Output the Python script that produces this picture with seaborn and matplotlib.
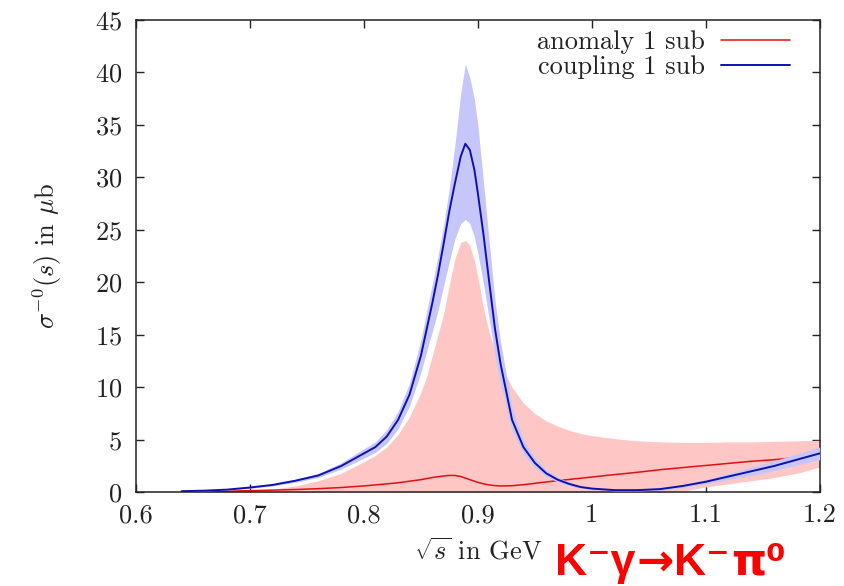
import numpy as np
import pandas as pd
import seaborn as sns
import matplotlib
matplotlib.use("Agg")
import matplotlib.pyplot as plt

# sqrt(s) in GeV
x_vals = [0.64, 0.66, 0.68, 0.70, 0.72, 0.74, 0.76, 0.78, 0.80, 0.81, 0.82, 0.83, 0.84, 0.85,
          0.855, 0.86, 0.865, 0.87, 0.875, 0.88, 0.885, 0.889, 0.893, 0.897, 0.90, 0.905,
          0.91, 0.915, 0.92, 0.93, 0.94, 0.95, 0.96, 0.97, 0.98, 0.99, 1.00, 1.02, 1.04,
          1.06, 1.08, 1.10, 1.12, 1.14, 1.16, 1.18, 1.20]

# coupling 1 sub (central, upper, lower)
coupling = [0.1, 0.15, 0.25, 0.45, 0.7, 1.1, 1.6, 2.5, 3.7, 4.3, 5.3, 6.9, 9.3, 13.0,
            15.5, 18.0, 20.7, 23.7, 26.8, 29.5, 32.0, 33.2, 32.6, 30.7, 28.5, 24.5,
            20.0, 15.6, 12.2, 6.9, 4.3, 2.8, 1.8, 1.2, 0.8, 0.5, 0.35, 0.2, 0.2,
            0.3, 0.6, 1.0, 1.5, 2.0, 2.5, 3.1, 3.7]
coupling_hi = [0.13, 0.18, 0.3, 0.52, 0.8, 1.25, 1.8, 2.8, 4.15, 4.8, 5.95, 7.7, 10.4, 14.5,
               17.2, 19.8, 22.5, 25.5, 29.0, 33.2, 38.0, 40.8, 39.5, 37.4, 35.0, 29.5,
               23.8, 18.3, 14.3, 8.1, 5.0, 3.3, 2.15, 1.42, 0.97, 0.62, 0.43, 0.28, 0.28,
               0.42, 0.75, 1.2, 1.8, 2.4, 3.0, 3.65, 4.3]
coupling_lo = [0.07, 0.12, 0.2, 0.38, 0.6, 0.95, 1.4, 2.2, 3.25, 3.8, 4.65, 6.05, 8.2, 11.4,
               13.4, 15.3, 17.3, 19.7, 22.0, 24.2, 25.6, 26.0, 25.6, 24.3, 22.8, 19.8,
               16.5, 13.0, 10.3, 5.9, 3.65, 2.35, 1.5, 0.98, 0.63, 0.4, 0.27, 0.13, 0.13,
               0.2, 0.45, 0.8, 1.2, 1.6, 2.05, 2.6, 3.1]

# anomaly 1 sub (central, upper, lower)
anomaly = [0.05, 0.07, 0.1, 0.15, 0.2, 0.26, 0.34, 0.45, 0.6, 0.7, 0.8, 0.9, 1.05, 1.2,
           1.3, 1.4, 1.48, 1.55, 1.6, 1.6, 1.5, 1.35, 1.2, 1.05, 0.95, 0.8,
           0.7, 0.63, 0.6, 0.62, 0.72, 0.85, 0.98, 1.1, 1.22, 1.33, 1.45, 1.68, 1.9,
           2.15, 2.35, 2.55, 2.75, 2.95, 3.1, 3.3, 3.5]
anomaly_hi = [0.0, 0.03, 0.08, 0.15, 0.3, 0.6, 1.1, 1.8, 2.9, 3.5, 4.3, 5.5, 7.2, 9.5,
              11.0, 13.0, 15.0, 17.0, 19.8, 22.3, 23.8, 24.0, 23.5, 22.0, 20.5, 17.5,
              15.2, 13.5, 12.2, 10.0, 8.5, 7.5, 6.8, 6.3, 5.9, 5.6, 5.4, 5.1, 4.9,
              4.8, 4.75, 4.75, 4.8, 4.8, 4.85, 4.9, 4.95]
anomaly_lo = [0.0] * 40 + [0.1, 0.5, 0.8, 1.1, 1.4, 1.8, 2.4]

df = pd.DataFrame({"x": x_vals, "coupling": coupling, "anomaly": anomaly})

sns.set_style("ticks")
plt.rcParams['font.family'] = ['cmr10', 'DejaVu Serif']
plt.rcParams['mathtext.fontset'] = 'cm'
plt.rcParams['axes.formatter.use_mathtext'] = True

fig = plt.figure(figsize=(8.45, 5.86), dpi=100)
ax = fig.add_axes([0.161, 0.160, 0.809, 0.806])

pink = "#ffc6c6"
lblue = "#c6c6fa"
ax.fill_between(x_vals, anomaly_lo, anomaly_hi, color=pink, lw=0, zorder=1)
sns.lineplot(data=df, x="x", y="anomaly", color="#e01010", lw=1.1, ax=ax,
             label="anomaly 1 sub", estimator=None, sort=False, zorder=2)
ax.fill_between(x_vals, coupling_lo, coupling_hi, color=lblue, lw=0, zorder=3)
sns.lineplot(data=df, x="x", y="coupling", color="#1010b0", lw=1.4, ax=ax,
             label="coupling 1 sub", estimator=None, sort=False, zorder=4)

ax.set_xlim(0.6, 1.2)
ax.set_ylim(0, 45)
ax.set_xticks([0.6, 0.7, 0.8, 0.9, 1.0, 1.1, 1.2])
ax.set_xticklabels(["0.6", "0.7", "0.8", "0.9", "1", "1.1", "1.2"])
ax.set_yticks(range(0, 46, 5))
ax.tick_params(direction="in", length=6, width=1, top=True, right=True,
               labelsize=19, colors="#222222")
ax.tick_params(axis="x", pad=8)
ax.tick_params(axis="y", pad=10)
for s in ax.spines.values():
    s.set_linewidth(1.1)
    s.set_color("#222222")

ax.set_xlabel(r"$\sqrt{s}$ in GeV", fontsize=19, color="#222222", labelpad=8)
ax.set_ylabel(r"$\sigma^{-0}(s)$ in $\mu$b", fontsize=19, color="#222222", labelpad=22)

leg = ax.legend(loc="upper right", bbox_to_anchor=(0.956, 0.978), frameon=False,
                markerfirst=False, fontsize=19, handlelength=2.6, labelspacing=0.05,
                borderaxespad=0.0, handletextpad=0.6, borderpad=0.0)
for t in leg.get_texts():
    t.set_color("#222222")

# reaction label in red, pieced together so each glyph uses a fitting font
pieces = [("K⁻γ", ["Liberation Sans", "DejaVu Sans"]),
          ("→", ["DejaVu Sans"]),
          ("K⁻", ["Liberation Sans", "DejaVu Sans"]),
          ("π⁰", ["DejaVu Sans"])]
W = fig.get_figwidth() * fig.dpi
fig.canvas.draw()
r = fig.canvas.get_renderer()
xpos = 0.657
for txt, fam in pieces:
    t = fig.text(xpos, 0.019, txt, color="#ff0000", fontsize=32, fontweight="bold",
                 family=fam, ha="left", va="baseline")
    xpos = t.get_window_extent(r).x1 / W + 0.001

fig.savefig("out.png", dpi=100)
